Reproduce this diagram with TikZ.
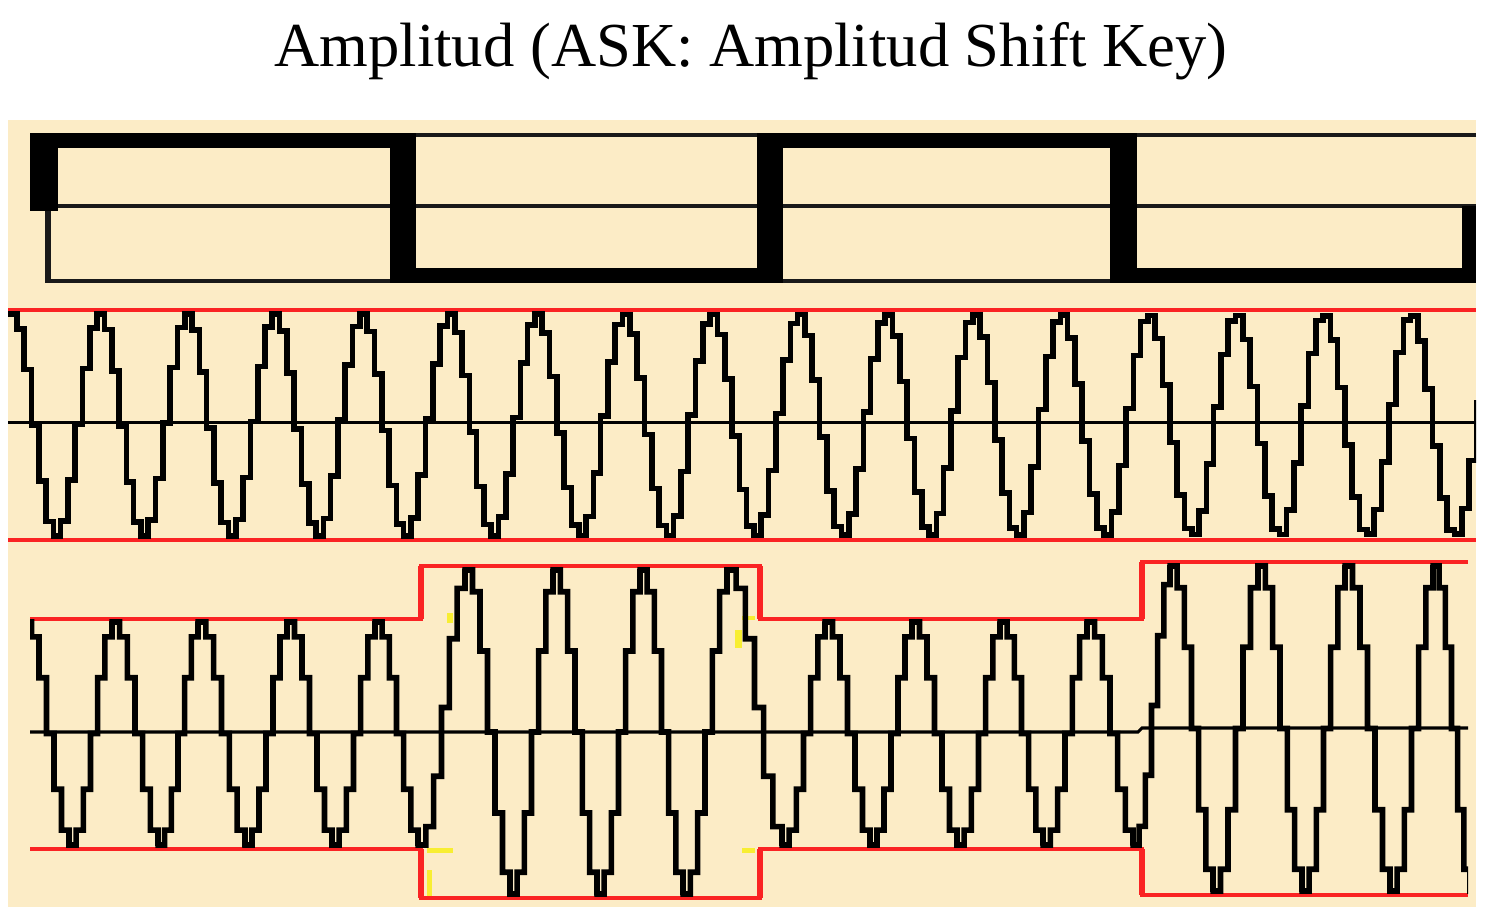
\documentclass[tikz,border=0pt]{standalone}
\usepackage{fontspec}
\setmainfont{Liberation Serif}

\definecolor{panelbg}{RGB}{252,236,198}
\definecolor{envred}{RGB}{250,35,35}
\definecolor{speckyellow}{RGB}{248,238,50}

\begin{document}
\begin{tikzpicture}[
    x=0.01cm, y=-0.01cm,
    databit/.style={fill=black},
    gridline/.style={draw=black!90, line width=0.035cm},
    axisline/.style={draw=black, line width=0.03cm},
    envelope/.style={draw=envred, line width=0.035cm},
    envstep/.style={draw=envred, line width=0.065cm},
    wave/.style={draw=black, line width=0.056cm, line cap=rect, const plot},
    speck/.style={fill=speckyellow},
]
    \useasboundingbox (0,0) rectangle (1494,916);

    \node[font=\fontsize{17.8}{20}\selectfont, anchor=base, inner sep=0pt] (title) at (751,67) {Amplitud (ASK: Amplitud Shift Key)};

    \fill[panelbg] (8,120) rectangle (1476,907);

    \draw[gridline] (1476,135) -- (48,135) -- (48,281) -- (1476,281);
    \draw[gridline] (48,206) -- (1476,206);
    \draw[gridline, line width=0.065cm] (48,206) -- (48,283);
    \foreach \xa/\ya/\xb/\yb in {30/133/58/211, 30/133/416/148, 390/133/416/283, 390/268/783/283,
        757/133/783/283, 757/133/1137/148, 1110/133/1137/283, 1110/268/1476/283, 1462/206/1476/283}
        \fill[databit] (\xa,\ya) rectangle (\xb,\yb);

    \draw[envelope] (8,310) -- (1476,310);
    \draw[envelope] (8,540) -- (1476,540);
    \draw[axisline] (8,423) -- (1476,423);
    \begin{scope}
        \clip (8,300) rectangle (1476,550);
        \draw[wave] plot[domain=9.6:1483.6, samples=203] (\x,{425-111*cos(4.119*(\x-9.6))});
    \end{scope}

    \fill[speck] (447,613) rectangle (453,623);
    \fill[speck] (427,848) rectangle (453,853);
    \fill[speck] (427,870) rectangle (432,897);
    \fill[speck] (735,630) rectangle (742,648);
    \fill[speck] (742,616) rectangle (755,620);
    \fill[speck] (742,848) rectangle (755,853);

    \draw[envelope] (30,619) -- (421,619) -- (421,566) -- (760,566) -- (760,619) -- (1142,619) -- (1142,562) -- (1468,562);
    \draw[envelope] (30,849) -- (421,849) -- (421,898) -- (760,898) -- (760,849) -- (1142,849) -- (1142,895) -- (1468,895);
    \foreach \xs/\ya/\yb in {421/619/566, 760/566/619, 1142/619/562, 421/849/898, 760/898/849, 1142/849/895}
        \draw[envstep] (\xs,\ya) -- (\xs,\yb);
    \draw[axisline] (30,732) -- (1138,732) -- (1142,728) -- (1468,728);
    \begin{scope}
        \clip (30,540) rectangle (1468,907);
        \draw[wave] (24,622) \foreach \xb/\yb [remember=\xb as \xa (initially 24), remember=\yb as \ya (initially 622)] in
            {69/845, 112/622, 158/845, 198/622, 245/845, 287/622, 332/845, 375/622, 418/845,
             465/570, 510/894, 553/570, 597/894, 640/570, 683/894, 727/570,
             782/845, 825/622, 870/845, 912/622, 957/845, 1000/622, 1043/845, 1087/622, 1133/845,
             1170/566, 1213/891, 1258/566, 1302/891, 1345/566, 1390/891, 1433/566, 1470/891}
            { -- plot[domain=\xa:\xb, samples=7] (\x,{(\ya+\yb)/2+(\ya-\yb)/2*cos(180*(\x-\xa)/(\xb-\xa))}) };
    \end{scope}
\end{tikzpicture}
\end{document}
